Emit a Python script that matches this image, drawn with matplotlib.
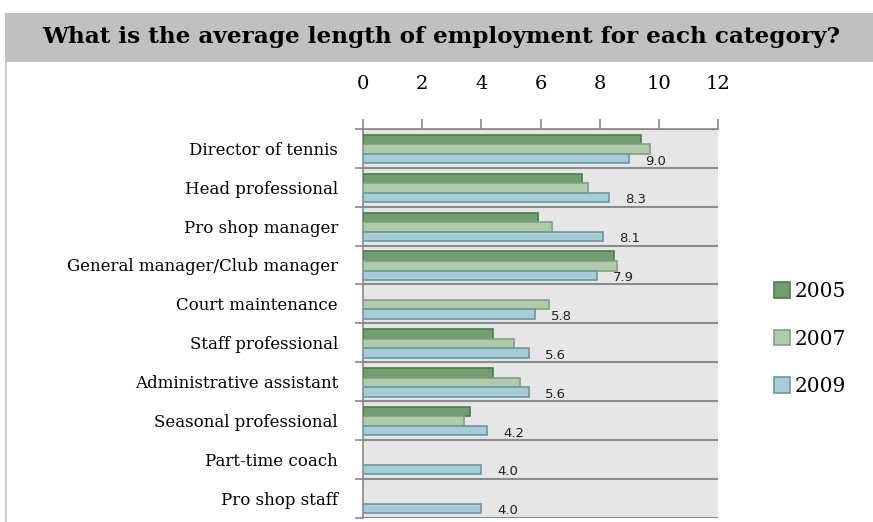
import numpy as np
import matplotlib.pyplot as plt
from matplotlib.patches import Rectangle
from matplotlib.lines import Line2D

# data
categories = ['Director of tennis', 'Head professional', 'Pro shop manager',
              'General manager/Club manager', 'Court maintenance', 'Staff professional',
              'Administrative assistant', 'Seasonal professional', 'Part-time coach',
              'Pro shop staff']
years = ['2005', '2007', '2009']
vals_2005 = [9.4, 7.4, 5.9, 8.5, np.nan, 4.4, 4.4, 3.6, np.nan, np.nan]
vals_2007 = [9.7, 7.6, 6.4, 8.6, 6.3, 5.1, 5.3, 3.4, np.nan, np.nan]
vals_2009 = [9.0, 8.3, 8.1, 7.9, 5.8, 5.6, 5.6, 4.2, 4.0, 4.0]
xticks = [0, 2, 4, 6, 8, 10, 12]

colors = ['#6f9f6f', '#afcbab', '#a6ccd6']
edges = ['#4d7b4d', '#859f83', '#6b97a5']

fig = plt.figure(figsize=(8.73, 5.22), dpi=100)

# title banner
fig.patches.append(Rectangle((5 / 873, 1 - 62 / 522), 868 / 873, 49 / 522,
                             transform=fig.transFigure, facecolor='#c0c0c0',
                             edgecolor='none', zorder=0))
fig.lines.append(Line2D([5.5 / 873, 5.5 / 873], [0, 1 - 62 / 522],
                        transform=fig.transFigure, color='#c0c0c0', lw=1.2))
fig.text(441 / 873, 1 - 37 / 522, 'What is the average length of employment for each category?',
         ha='center', va='center', fontsize=16.7, fontweight='bold',
         family='DejaVu Serif')

ax = fig.add_axes([363 / 873, 1 - 517.5 / 522, 355 / 873, 388.5 / 522])
ax.set_facecolor('#e6e6e6')

y = np.arange(len(categories))
h = 0.245
series = [vals_2005, vals_2007, vals_2009]
for k, vals in enumerate(series):
    ax.barh(y + (k - 1) * h + 0.02, vals, height=h, color=colors[k], edgecolor=edges[k],
            linewidth=1.2, label=years[k], zorder=3)

for i, v in enumerate(vals_2009):
    ax.text(v + 0.55, y[i] + h + 0.08, f'{v:.1f}', ha='left', va='center',
            fontsize=9.5, family='DejaVu Sans', color='#222222', zorder=4)

ax.set_xlim(0, 12)
ax.set_ylim(len(categories) - 0.5, -0.5)
ax.xaxis.tick_top()
ax.set_xticks(xticks)
ax.set_xticklabels([str(t) for t in xticks], fontsize=14, family='DejaVu Serif')
ax.tick_params(axis='x', length=7, width=1.2, color='#888888', pad=19)

ax.set_yticks(y)
ax.set_yticklabels(categories, fontsize=12, family='DejaVu Serif')
ax.tick_params(axis='y', which='major', length=0, pad=18)
ax.set_yticks(np.arange(len(categories) + 1) - 0.5, minor=True)
ax.tick_params(axis='y', which='minor', length=6, width=1.2, color='#888888')
ax.grid(axis='y', which='minor', color='#8c8c8c', linewidth=1.5, zorder=1)

for s in ['right', 'bottom']:
    ax.spines[s].set_visible(False)
ax.spines['top'].set_color('#888888')
ax.spines['left'].set_color('#888888')
ax.spines['top'].set_linewidth(1.2)
ax.spines['left'].set_linewidth(1.2)

handles, labels = ax.get_legend_handles_labels()
fig.legend(handles, labels, loc='center left', bbox_to_anchor=(756 / 873, 1 - 339 / 522),
           frameon=False, prop={'family': 'DejaVu Serif', 'size': 14.5},
           handlelength=0.8, handleheight=0.8, handletextpad=0.2, labelspacing=1.42)

fig.savefig('out.png', dpi=100)
